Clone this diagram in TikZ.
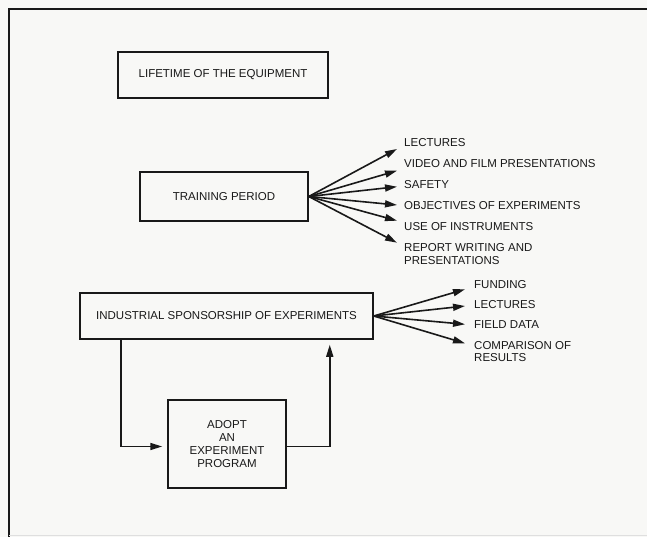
\documentclass[tikz,border=0pt]{standalone}
\usepackage{fontspec}
\setmainfont{Liberation Sans}
\usetikzlibrary{arrows.meta}

\definecolor{paper}{RGB}{248,248,246}
\definecolor{ink}{RGB}{25,25,25}

\tikzset{
  boxnode/.style={draw=ink, line width=1.5pt, rectangle, inner sep=0pt,
    font=\fontsize{11.5}{13}\selectfont, text=ink, align=center},
  itemlabel/.style={anchor=west, inner sep=0pt, align=left,
    font=\fontsize{11.5}{12.5}\selectfont, text=ink},
  conn/.style={draw=ink, line width=1.6pt},
  fanarrow/.style={conn, -{Triangle[length=12pt,width=7pt]}},
  looparrow/.style={conn, -{Triangle[length=12pt,width=7pt]}, shorten >=5pt},
  frameline/.style={draw=ink, line width=2pt}
}

\begin{document}
\begin{tikzpicture}[x=1pt, y=-1pt]
  % page and outer frame
  \fill[paper] (0,0) rectangle (647,537);
  \useasboundingbox (0,0) rectangle (647,537);
  \draw[frameline] (9,537) -- (9,9) -- (647,9);
  \draw[gray!25, line width=1pt] (9,535) -- (647,535);

  % main boxes
  \node[boxnode, minimum width=210pt, minimum height=46pt] (life) at (223,75)
    {LIFETIME OF THE EQUIPMENT};
  \node[boxnode, minimum width=168pt, minimum height=49pt] (train) at (224,196.5)
    {TRAINING PERIOD};
  \node[boxnode, minimum width=293pt, minimum height=46pt] (ind) at (226.5,316)
    {INDUSTRIAL SPONSORSHIP OF EXPERIMENTS};
  \node[boxnode, minimum width=118pt, minimum height=88pt] (adopt) at (227,444)
    {ADOPT\\AN\\EXPERIMENT\\PROGRAM};

  % training topics
  \node[itemlabel] (tl1) at (404,142.7) {LECTURES};
  \node[itemlabel] (tl2) at (404,163.3) {VIDEO AND FILM PRESENTATIONS};
  \node[itemlabel] (tl3) at (404,185) {SAFETY};
  \node[itemlabel] (tl4) at (404,206) {OBJECTIVES OF EXPERIMENTS};
  \node[itemlabel] (tl5) at (404,226.7) {USE OF INSTRUMENTS};
  \node[itemlabel] (tl6) at (404,254) {REPORT WRITING AND\\PRESENTATIONS};

  \coordinate (tt1) at (397,149);
  \coordinate (tt2) at (397,170.7);
  \coordinate (tt3) at (397,186.7);
  \coordinate (tt4) at (397,205);
  \coordinate (tt5) at (397,220.7);
  \coordinate (tt6) at (397,242.7);
  \foreach \k in {1,...,6}
    \draw[fanarrow] (train.east) -- (tt\k);

  % sponsorship benefits
  \node[itemlabel] (sl1) at (474,285) {FUNDING};
  \node[itemlabel] (sl2) at (474,305) {LECTURES};
  \node[itemlabel] (sl3) at (474,325) {FIELD DATA};
  \node[itemlabel] (sl4) at (474,351.7) {COMPARISON OF\\RESULTS};

  \coordinate (st1) at (465,289.3);
  \coordinate (st2) at (465,306);
  \coordinate (st3) at (465,324.3);
  \coordinate (st4) at (465,343.3);
  \foreach \k in {1,...,4}
    \draw[fanarrow] (ind.east) -- (st\k);

  % adopt-an-experiment loop
  \draw[looparrow] ([xshift=42pt]ind.south west) |- ([yshift=-2.5pt]adopt.west);
  \draw[looparrow] ([yshift=-2.5pt]adopt.east) -| ([xshift=-44pt]ind.south east);
\end{tikzpicture}
\end{document}
